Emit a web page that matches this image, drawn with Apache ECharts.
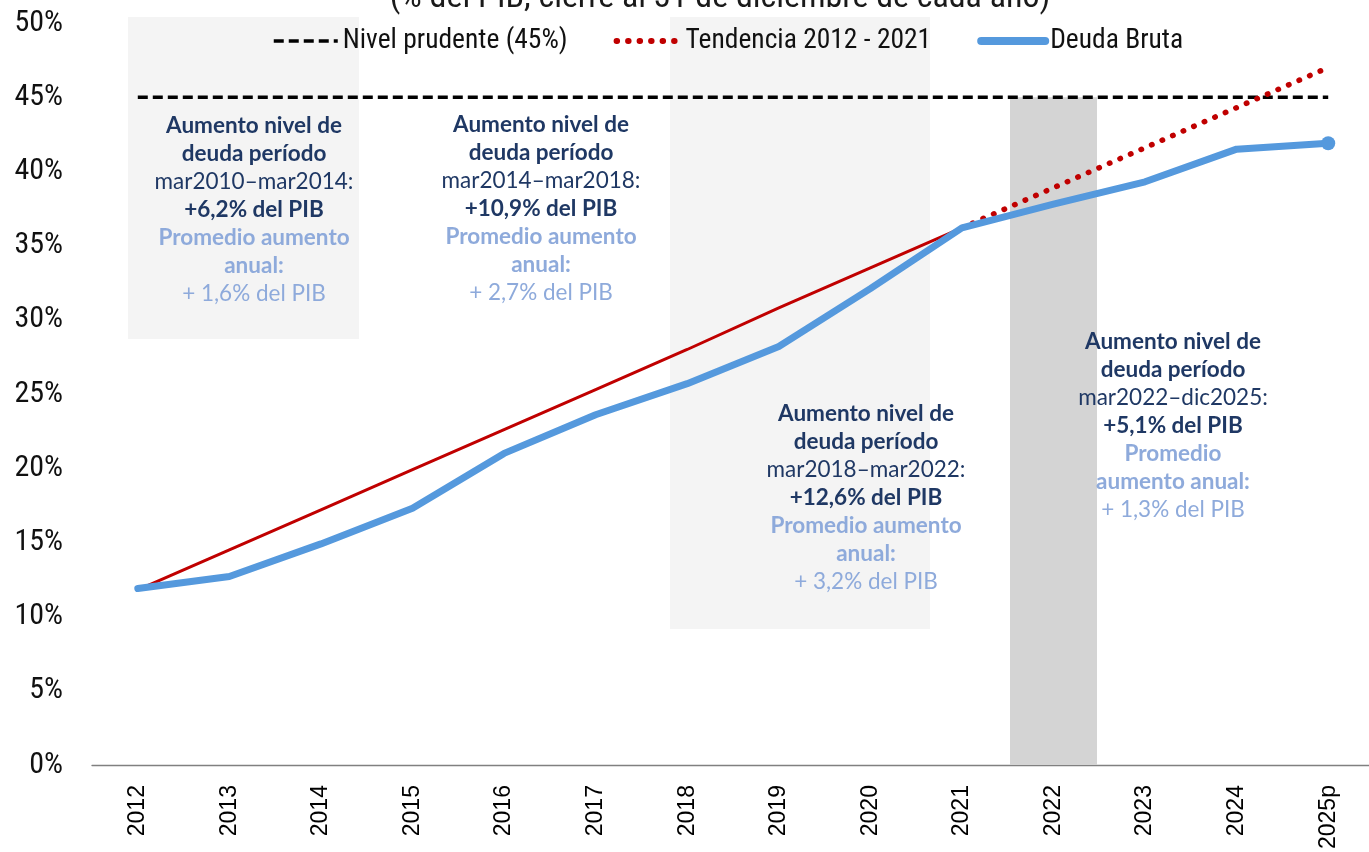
<!DOCTYPE html>
<html>
<head>
<meta charset="utf-8">
<script src="https://cdn.jsdelivr.net/npm/echarts@6/dist/echarts.min.js"></script>
<style>
html,body{margin:0;padding:0;background:#fff;overflow:hidden;}
#chart{width:1374px;height:852px;}
</style>
</head>
<body>
<div id="chart"></div>
<script>
const years = ['2012','2013','2014','2015','2016','2017','2018','2019','2020','2021','2022','2023','2024','2025p'];
const deudaBruta = [11.9, 12.7, 14.9, 17.3, 21.0, 23.6, 25.7, 28.2, 32.1, 36.2, 37.8, 39.3, 41.5, 41.9];
const tendenciaSolida = [11.8, 14.5, 17.2, 19.9, 22.6, 25.3, 28.0, 30.8, 33.5, 36.2, null, null, null, null];
const tendenciaProy = [null, null, null, null, null, null, null, null, null, 36.2, 38.9, 41.6, 44.3, 47.0];
const nivelPrudente = [45, 45, 45, 45, 45, 45, 45, 45, 45, 45, 45, 45, 45, 45];
const barra2022 = [null, null, null, null, null, null, null, null, null, null, 45, null, null, null];
const yTicks = [0, 5, 10, 15, 20, 25, 30, 35, 40, 45, 50];

const NAVY = '#1f3864';
const LIGHT = '#8eaadb';
const narrow = '"Liberation Sans Narrow", "Roboto Condensed", Roboto, sans-serif';
const annFont = 'Lato, "Open Sans", sans-serif';
const AFS = 22.5;

function block(lines) {
  return lines.map(l => '{' + l[0] + '|' + l[1] + '}').join('\n');
}
const rich = {
  b: {fontFamily: annFont, fontWeight: 'bold', fontSize: AFS, fill: NAVY, color: NAVY, lineHeight: 28},
  r: {fontFamily: annFont, fontWeight: 'normal', fontSize: AFS, fill: NAVY, color: NAVY, lineHeight: 28},
  lb: {fontFamily: annFont, fontWeight: 'bold', fontSize: AFS, fill: LIGHT, color: LIGHT, lineHeight: 28},
  lr: {fontFamily: annFont, fontWeight: 'normal', fontSize: AFS, fill: LIGHT, color: LIGHT, lineHeight: 28}
};
const blocks = [
  {x: 254, y: 112, text: block([['b','Aumento nivel de'],['b','deuda período'],['r','mar2010–mar2014:'],['b','+6,2% del PIB'],['lb','Promedio aumento'],['lb','anual:'],['lr','+ 1,6% del PIB']])},
  {x: 541, y: 111, text: block([['b','Aumento nivel de'],['b','deuda período'],['r','mar2014–mar2018:'],['b','+10,9% del PIB'],['lb','Promedio aumento'],['lb','anual:'],['lr','+ 2,7% del PIB']])},
  {x: 866, y: 400, text: block([['b','Aumento nivel de'],['b','deuda período'],['r','mar2018–mar2022:'],['b','+12,6% del PIB'],['lb','Promedio aumento'],['lb','anual:'],['lr','+ 3,2% del PIB']])},
  {x: 1173, y: 328, text: block([['b','Aumento nivel de'],['b','deuda período'],['r','mar2022–dic2025:'],['b','+5,1% del PIB'],['lb','Promedio'],['lb','aumento anual:'],['lr','+ 1,3% del PIB']])}
];

const chart = echarts.init(document.getElementById('chart'));
chart.setOption({
  animation: false,
  backgroundColor: '#ffffff',
  title: {
    text: '(% del PIB, cierre al 31 de diciembre de cada año)',
    left: 715, top: -24, textAlign: 'center',
    textStyle: {fontFamily: narrow, fontSize: 34, fontWeight: 'normal', color: '#1a1a1a'}
  },
  graphic: [
    {type: 'rect', z: -10, shape: {x: 128, y: 17, width: 231, height: 322}, style: {fill: '#f4f4f4'}},
    {type: 'rect', z: -10, shape: {x: 670, y: 17, width: 260, height: 612}, style: {fill: '#f4f4f4'}}
  ].concat(blocks.map(b => ({
    type: 'text', z: 100, x: b.x, y: b.y,
    style: {text: b.text, rich: rich, align: 'center', verticalAlign: 'top', textAlign: 'center', textVerticalAlign: 'top'}
  }))),
  legend: {
    data: [
      {name: 'Nivel prudente (45%)', lineStyle: {width: 3.5}},
      {name: 'Tendencia 2012 - 2021', lineStyle: {width: 6}},
      {name: 'Deuda Bruta', lineStyle: {width: 8}}
    ],
    left: 267, top: 22,
    itemWidth: 64, itemHeight: 14, itemGap: 46,
    itemStyle: {opacity: 0},
    textStyle: {fontFamily: narrow, fontSize: 27.5, color: '#111'}
  },
  grid: {left: 92, right: 0, top: 23, bottom: 84, containLabel: false},
  xAxis: {
    type: 'category', data: years, boundaryGap: true,
    axisLine: {lineStyle: {color: '#808080', width: 1.3}},
    axisTick: {show: false},
    axisLabel: {rotate: 90, margin: 20, fontFamily: '"Liberation Sans", Arial, sans-serif', fontSize: 23, color: '#000'}
  },
  yAxis: {
    type: 'value', min: yTicks[0], max: yTicks[yTicks.length - 1], interval: yTicks[1] - yTicks[0],
    splitLine: {show: false}, axisLine: {show: false}, axisTick: {show: false},
    axisLabel: {formatter: '{value}%', margin: 29, fontFamily: narrow, fontSize: 30, color: '#111'}
  },
  series: [
    {name: 'Periodo 2022', type: 'bar', data: barra2022, barWidth: 87, itemStyle: {color: '#d4d4d4'}, z: 1, silent: true},
    {name: 'Nivel prudente (45%)', type: 'line', data: nivelPrudente, symbol: 'none', z: 3,
      lineStyle: {color: '#000', width: 3.5, type: [10, 5]}, itemStyle: {color: '#000'}},
    {name: 'Tendencia solida', type: 'line', data: tendenciaSolida, symbol: 'none', z: 4,
      lineStyle: {color: '#c00000', width: 3}, itemStyle: {color: '#c00000'}},
    {name: 'Tendencia 2012 - 2021', type: 'line', data: tendenciaProy, symbol: 'none', z: 4,
      lineStyle: {color: '#c00000', width: 5.5, type: [0.5, 11], cap: 'round'}, itemStyle: {color: '#c00000'}},
    {name: 'Deuda Bruta', type: 'line', z: 5,
      data: deudaBruta.map((v, i) => i === deudaBruta.length - 1 ? {value: v, symbol: 'circle', symbolSize: 14, itemStyle: {opacity: 1}} : v),
      symbol: 'none', showSymbol: true,
      lineStyle: {color: '#5599dd', width: 7, cap: 'round', join: 'round'}, itemStyle: {color: '#5599dd'}}
  ]
});
</script>
</body>
</html>
